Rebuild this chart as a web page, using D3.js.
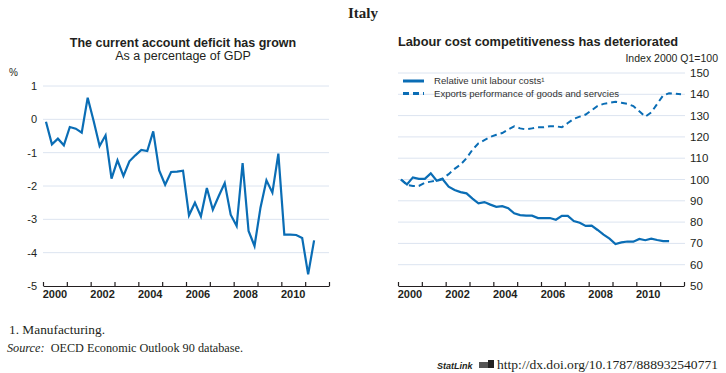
<!DOCTYPE html>
<html>
<head>
<meta charset="utf-8">
<script src="https://cdn.jsdelivr.net/npm/d3@7"></script>
<style>
  body { margin: 0; background: #fff; }
  text { font-family: "Liberation Sans", Arial, sans-serif; fill: #231f20; }
  .grid line { stroke: #dce4f0; stroke-width: 1; }
  .tick-lab { font-weight: bold; font-size: 11px; }
  .ylab { font-size: 11px; }
</style>
</head>
<body>
<div id="chart"></div>
<script>
// Quarterly data, 2000Q1 onwards
var startYear = 2000;

// Current account balance, % of GDP (2000Q1 - 2011Q2)
var currentAccount = [
  -0.07, -0.75, -0.58, -0.78, -0.23, -0.28, -0.40, 0.65,
  -0.05, -0.80, -0.48, -1.78, -1.23, -1.70, -1.26, -1.08,
  -0.92, -0.95, -0.36, -1.53, -1.96, -1.58, -1.57, -1.54,
  -2.88, -2.50, -2.91, -2.06, -2.71, -2.30, -1.91, -2.86,
  -3.20, -1.31, -3.35, -3.80, -2.65, -1.83, -2.20, -1.03,
  -3.46, -3.46, -3.47, -3.56, -4.65, -3.63
];

// Relative unit labour costs, manufacturing (2000Q1 - 2011Q2)
var rulc = [
  100.0, 97.7, 101.0, 100.3, 100.3, 102.9, 99.4, 100.1,
  96.6, 95.1, 94.1, 93.5, 91.0, 88.8, 89.4, 88.2,
  87.2, 87.5, 86.5, 84.1, 83.3, 83.0, 83.0, 81.9,
  81.9, 81.9, 81.1, 82.9, 82.9, 80.5, 79.7, 78.2,
  78.3, 76.3, 74.1, 72.2, 69.7, 70.5, 70.9, 70.8,
  72.1, 71.5, 72.2, 71.6, 71.1, 71.1
];

// Export performance of goods and services (2000Q1 - 2011Q4)
var exportPerf = [
  100.0, 97.5, 97.0, 97.0, 98.5, 99.0, 99.5, 100.5,
  102.5, 105.0, 107.0, 110.0, 114.0, 117.0, 118.5, 120.0,
  121.0, 121.8, 123.5, 125.0, 124.0, 123.5, 124.0, 124.5,
  124.5, 125.0, 125.0, 124.5, 126.5, 128.5, 129.5, 130.5,
  132.5, 134.5, 135.5, 136.0, 136.5, 136.0, 135.5, 134.5,
  132.0, 129.5, 131.5, 135.5, 139.5, 140.5, 140.3, 140.0
];

var yearLabels = [2000, 2002, 2004, 2006, 2008, 2010];
var caTicks = [1, 0, -1, -2, -3, -4, -5];
var idxTicks = [150, 140, 130, 120, 110, 100, 90, 80, 70, 60, 50];

var legendLabels = ["Relative unit labour costs\u00b9", "Exports performance of goods and servcies"];

var blue = "#0a6db5";

// quarter index -> decimal year (mid-quarter)
function qDate(i) { return startYear + i / 4 + 0.125; }

var svg = d3.select("#chart").append("svg")
  .attr("width", 726)
  .attr("height", 373);

svg.append("rect").attr("width", 726).attr("height", 373).attr("fill", "#fff");

svg.append("text")
  .attr("x", 363).attr("y", 18)
  .attr("text-anchor", "middle")
  .style("font-family", "'Liberation Serif', serif")
  .style("font-weight", "bold")
  .style("font-size", "15px")
  .text("Italy");

// ---------- left panel ----------
var xL = d3.scaleLinear().domain([2000, 2012]).range([43, 329]);
var yL = d3.scaleLinear().domain([-5, 1]).range([286, 86]);

var gL = svg.append("g");

gL.append("text").attr("x", 183).attr("y", 47).attr("text-anchor", "middle")
  .style("font-weight", "bold").style("font-size", "12.5px")
  .text("The current account deficit has grown");
gL.append("text").attr("x", 183).attr("y", 60).attr("text-anchor", "middle")
  .style("font-size", "12.5px")
  .text("As a percentage of GDP");
gL.append("text").attr("x", 9).attr("y", 76).style("font-size", "10px").text("%");

gL.append("g").attr("class", "grid")
  .selectAll("line").data(caTicks.filter(function(d) { return d > -5; }))
  .enter().append("line")
  .attr("x1", 43).attr("x2", 329)
  .attr("y1", function(d) { return yL(d); })
  .attr("y2", function(d) { return yL(d); });

gL.selectAll(".ylab").data(caTicks).enter().append("text")
  .attr("class", "ylab")
  .attr("x", 37).attr("y", function(d) { return yL(d); })
  .attr("dy", "0.35em").attr("text-anchor", "end")
  .text(function(d) { return d; });

function drawXAxis(g, x, y0) {
  var axis = d3.axisTop(x)
    .tickValues(d3.range(2000, 2013))
    .tickSize(4)
    .tickSizeOuter(0)
    .tickFormat("");
  var ax = g.append("g").attr("transform", "translate(0," + y0 + ")").call(axis);
  ax.select(".domain").attr("stroke", "#231f20").attr("stroke-width", 1.2);
  ax.selectAll(".tick line").attr("stroke", "#231f20").attr("stroke-width", 1.2);
  g.selectAll(null).data(yearLabels).enter().append("text")
    .attr("class", "tick-lab")
    .attr("x", function(d) { return x(d + 0.5); })
    .attr("y", y0 + 12)
    .attr("text-anchor", "middle")
    .text(function(d) { return d; });
}
drawXAxis(gL, xL, 286);

var lineL = d3.line()
  .x(function(d, i) { return xL(qDate(i)); })
  .y(function(d) { return yL(d); });

gL.append("path").datum(currentAccount)
  .attr("d", lineL)
  .attr("fill", "none")
  .attr("stroke", blue)
  .attr("stroke-width", 2.2)
  .attr("stroke-linejoin", "miter");

// ---------- right panel ----------
var xR = d3.scaleLinear().domain([2000, 2012]).range([398, 684]);
var yR = d3.scaleLinear().domain([50, 150]).range([286, 73]);

var gR = svg.append("g");

gR.append("text").attr("x", 538).attr("y", 46).attr("text-anchor", "middle")
  .style("font-weight", "bold").style("font-size", "12.8px")
  .text("Labour cost competitiveness has deteriorated");
gR.append("text").attr("x", 718).attr("y", 62).attr("text-anchor", "end")
  .style("font-size", "10.5px")
  .text("Index 2000 Q1=100");

gR.append("g").attr("class", "grid")
  .selectAll("line").data(idxTicks.filter(function(d) { return d > 50; }))
  .enter().append("line")
  .attr("x1", 398).attr("x2", 685)
  .attr("y1", function(d) { return yR(d); })
  .attr("y2", function(d) { return yR(d); });

gR.selectAll(".ylab").data(idxTicks).enter().append("text")
  .attr("class", "ylab")
  .attr("x", 690).attr("y", function(d) { return yR(d); })
  .attr("dy", "0.35em")
  .style("font-size", "11.5px")
  .text(function(d) { return d; });

drawXAxis(gR, xR, 286);

var lineR = d3.line()
  .x(function(d, i) { return xR(qDate(i)); })
  .y(function(d) { return yR(d); });

gR.append("path").datum(exportPerf)
  .attr("d", lineR)
  .attr("fill", "none")
  .attr("stroke", blue)
  .attr("stroke-width", 2)
  .attr("stroke-dasharray", "6,4");

gR.append("path").datum(rulc)
  .attr("d", lineR)
  .attr("fill", "none")
  .attr("stroke", blue)
  .attr("stroke-width", 2.2);

// legend
var leg = gR.selectAll(".leg").data(legendLabels).enter().append("g")
  .attr("transform", function(d, i) { return "translate(403," + (81 + i * 12.5) + ")"; });
leg.append("line")
  .attr("x1", 0).attr("x2", 21).attr("y1", 0).attr("y2", 0)
  .attr("stroke", blue).attr("stroke-width", 3)
  .attr("stroke-dasharray", function(d, i) { return i ? "6,4" : null; });
leg.append("text")
  .attr("x", 31).attr("dy", "0.35em")
  .style("font-size", "9.6px").style("fill", "#333")
  .text(function(d) { return d; });

// ---------- footer ----------
var serif = "'Liberation Serif', serif";
svg.append("text").attr("x", 9).attr("y", 334)
  .style("font-family", serif).style("font-size", "12px")
  .attr("textLength", 96).attr("lengthAdjust", "spacingAndGlyphs")
  .text("1.  Manufacturing.");
var src = svg.append("text").attr("x", 7).attr("y", 352)
  .style("font-family", serif).style("font-size", "12px")
  .attr("textLength", 236).attr("lengthAdjust", "spacingAndGlyphs");
src.append("tspan").style("font-style", "italic").text("Source:");
src.append("tspan").text("\u00a0 OECD Economic Outlook 90 database.");

svg.append("text").attr("x", 437).attr("y", 369)
  .style("font-style", "italic").style("font-weight", "bold")
  .style("font-size", "9px")
  .text("StatLink");
svg.append("rect").attr("x", 479).attr("y", 362).attr("width", 10).attr("height", 6)
  .attr("fill", "#555");
svg.append("rect").attr("x", 488).attr("y", 360).attr("width", 6).attr("height", 8)
  .attr("fill", "#222");
svg.append("text").attr("x", 497).attr("y", 369)
  .style("font-family", serif).style("font-size", "12.5px")
  .attr("textLength", 221).attr("lengthAdjust", "spacingAndGlyphs")
  .text("http://dx.doi.org/10.1787/888932540771");
</script>
</body>
</html>
